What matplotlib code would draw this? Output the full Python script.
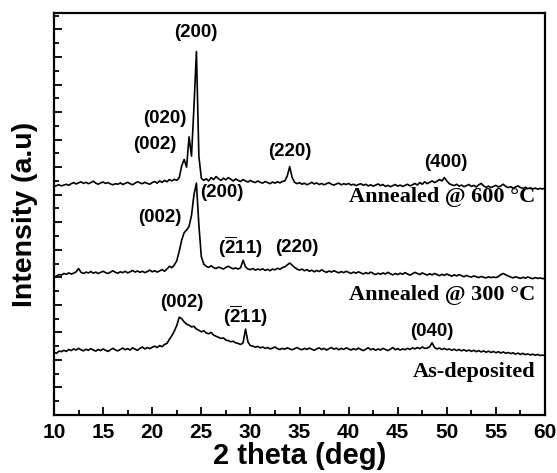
import numpy as np
import matplotlib.pyplot as plt
from matplotlib.ticker import MultipleLocator

# 2 theta grid, 10 to 60 deg in 0.25 deg steps
two_theta = np.arange(10, 60.001, 0.25)

annealed_600 = [
    8.30, 8.33, 8.36, 8.32, 8.35, 8.38, 8.34, 8.40, 8.44, 8.39, 8.43, 8.47, 8.41, 8.45, 8.40, 8.44, 8.49, 8.42, 8.38, 8.43,
    8.46, 8.41, 8.44, 8.39, 8.36, 8.40, 8.38, 8.43, 8.37, 8.41, 8.45, 8.40, 8.36, 8.42, 8.47, 8.43, 8.40, 8.45, 8.41, 8.38,
    8.44, 8.48, 8.42, 8.50, 8.45, 8.52, 8.47, 8.55, 8.50, 8.56, 8.52, 8.62, 9.05, 9.28, 9.00, 10.10, 9.40, 11.2, 13.2, 9.4,
    8.60, 8.52, 8.58, 8.50, 8.62, 8.55, 8.66, 8.58, 8.52, 8.60, 8.54, 8.62, 8.56, 8.50, 8.57, 8.52, 8.48, 8.55, 8.50, 8.46,
    8.52, 8.47, 8.44, 8.50, 8.45, 8.42, 8.48, 8.44, 8.40, 8.46, 8.42, 8.47, 8.43, 8.48, 8.50, 8.68, 9.02, 8.62, 8.45, 8.40,
    8.44, 8.38, 8.42, 8.36, 8.40, 8.45, 8.39, 8.43, 8.37, 8.41, 8.36, 8.40, 8.44, 8.38, 8.35, 8.39, 8.42, 8.36, 8.40, 8.37,
    8.41, 8.35, 8.38, 8.33, 8.37, 8.40, 8.34, 8.38, 8.32, 8.36, 8.31, 8.35, 8.39, 8.33, 8.37, 8.30, 8.34, 8.29, 8.33, 8.37,
    8.31, 8.35, 8.30, 8.34, 8.38, 8.32, 8.36, 8.41, 8.35, 8.44, 8.38, 8.47, 8.40, 8.45, 8.50, 8.44, 8.49, 8.55, 8.50, 8.62,
    8.50, 8.40, 8.36, 8.33, 8.38, 8.31, 8.35, 8.29, 8.33, 8.37, 8.30, 8.34, 8.28, 8.36, 8.41, 8.32, 8.27, 8.31, 8.26, 8.30,
    8.34, 8.28, 8.32, 8.38, 8.30, 8.26, 8.29, 8.24, 8.28, 8.32, 8.26, 8.23, 8.27, 8.22, 8.25, 8.21, 8.24, 8.20, 8.23, 8.21,
    8.24,
]

annealed_300 = [
    5.00, 5.05, 5.10, 5.08, 5.14, 5.11, 5.16, 5.12, 5.15, 5.20, 5.32, 5.18, 5.14, 5.19, 5.16, 5.21, 5.15, 5.19, 5.14, 5.18,
    5.22, 5.17, 5.14, 5.19, 5.24, 5.18, 5.15, 5.20, 5.17, 5.22, 5.16, 5.20, 5.25, 5.19, 5.23, 5.18, 5.22, 5.17, 5.21, 5.26,
    5.20, 5.24, 5.19, 5.23, 5.28, 5.22, 5.30, 5.40, 5.35, 5.45, 5.60, 5.95, 6.35, 6.62, 6.72, 6.85, 7.25, 8.0, 8.42, 6.9,
    5.75, 5.48, 5.40, 5.36, 5.42, 5.35, 5.32, 5.37, 5.34, 5.30, 5.36, 5.40, 5.35, 5.31, 5.34, 5.30, 5.35, 5.62, 5.38, 5.30,
    5.28, 5.32, 5.26, 5.30, 5.27, 5.31, 5.25, 5.29, 5.24, 5.30, 5.27, 5.33, 5.29, 5.35, 5.38, 5.45, 5.52, 5.44, 5.36, 5.30,
    5.26, 5.30, 5.24, 5.28, 5.22, 5.26, 5.20, 5.25, 5.21, 5.27, 5.22, 5.18, 5.23, 5.19, 5.24, 5.20, 5.16, 5.21, 5.17, 5.22,
    5.18, 5.14, 5.19, 5.15, 5.20, 5.16, 5.12, 5.17, 5.13, 5.19, 5.14, 5.10, 5.15, 5.11, 5.16, 5.12, 5.18, 5.13, 5.09, 5.14,
    5.10, 5.15, 5.11, 5.17, 5.12, 5.08, 5.13, 5.18, 5.14, 5.10, 5.16, 5.12, 5.08, 5.13, 5.09, 5.14, 5.10, 5.06, 5.11, 5.07,
    5.12, 5.08, 5.04, 5.09, 5.05, 5.10, 5.06, 5.02, 5.07, 5.03, 5.01, 5.05, 5.02, 4.99, 5.03, 5.00, 4.98, 5.02, 4.99, 5.01,
    4.99, 5.03, 5.10, 5.14, 5.09, 5.05, 5.01, 4.98, 5.02, 4.99, 4.96, 5.00, 4.97, 5.01, 4.98, 4.95, 4.99, 4.96, 4.98, 4.95,
    4.97,
]

as_deposited = [
    2.28, 2.24, 2.32, 2.30, 2.35, 2.31, 2.38, 2.34, 2.40, 2.36, 2.42, 2.37, 2.33, 2.39, 2.35, 2.41, 2.36, 2.32, 2.38, 2.34,
    2.40, 2.35, 2.31, 2.37, 2.42, 2.36, 2.33, 2.38, 2.43, 2.37, 2.41, 2.36, 2.44, 2.39, 2.35, 2.42, 2.47, 2.40, 2.45, 2.41,
    2.46, 2.50, 2.45, 2.52, 2.48, 2.56, 2.60, 2.75, 2.88, 3.05, 3.25, 3.55, 3.50, 3.38, 3.30, 3.26, 3.20, 3.22, 3.12, 3.08,
    3.02, 3.06, 2.98, 2.95, 3.00, 2.90, 2.86, 2.82, 2.78, 2.80, 2.72, 2.70, 2.66, 2.68, 2.62, 2.60, 2.56, 2.62, 3.12, 2.65,
    2.52, 2.50, 2.46, 2.49, 2.44, 2.47, 2.42, 2.45, 2.40, 2.43, 2.47, 2.41, 2.38, 2.42, 2.39, 2.44, 2.40, 2.37, 2.41, 2.45,
    2.40, 2.37, 2.42, 2.38, 2.43, 2.39, 2.35, 2.40, 2.44, 2.38, 2.42, 2.36, 2.41, 2.45, 2.39, 2.43, 2.37, 2.42, 2.38, 2.44,
    2.40, 2.36, 2.41, 2.37, 2.43, 2.38, 2.34, 2.39, 2.44, 2.37, 2.41, 2.35, 2.40, 2.36, 2.42, 2.38, 2.34, 2.39, 2.45, 2.37,
    2.41, 2.36, 2.40, 2.37, 2.42, 2.38, 2.44, 2.40, 2.45, 2.41, 2.47, 2.42, 2.43, 2.48, 2.62, 2.45, 2.40, 2.43, 2.38, 2.42,
    2.37, 2.40, 2.35, 2.39, 2.34, 2.38, 2.33, 2.37, 2.32, 2.36, 2.31, 2.35, 2.30, 2.34, 2.29, 2.33, 2.28, 2.32, 2.27, 2.31,
    2.26, 2.30, 2.25, 2.29, 2.24, 2.27, 2.23, 2.26, 2.21, 2.25, 2.20, 2.24, 2.19, 2.22, 2.18, 2.21, 2.17, 2.20, 2.16, 2.18,
    2.15,
]

# peak labels: text, 2theta, height
peak_labels = [
    ('(200)', 24.46, 13.9), ('(020)', 21.3, 10.76), ('(002)', 20.3, 9.82),
    ('(220)', 34.0, 9.56), ('(400)', 49.9, 9.16),
    ('(200)', 27.1, 8.07), ('(002)', 20.8, 7.16),
    (r'$(\overline{2}11)$', 29.0, 6.1), ('(220)', 34.75, 6.1),
    ('(002)', 23.0, 4.07), (r'$(\overline{2}11)$', 29.5, 3.6), ('(040)', 48.5, 3.02),
]
sample_labels = [
    ('Annealed @ 600 \u00b0C', 7.9),
    ('Annealed @ 300 \u00b0C', 4.36),
    ('As-deposited', 1.56),
]

plt.rcParams['font.family'] = ['Liberation Sans', 'DejaVu Sans']
plt.rcParams['font.weight'] = 'bold'
plt.rcParams['mathtext.fontset'] = 'custom'
plt.rcParams['mathtext.rm'] = 'Liberation Sans:bold'
plt.rcParams['mathtext.it'] = 'Liberation Sans:bold'
plt.rcParams['mathtext.bf'] = 'Liberation Sans:bold'

fig = plt.figure(figsize=(5.57, 4.73), dpi=100)
ax = fig.add_axes([0.097, 0.1226, 0.8815, 0.85])

for curve in (annealed_600, annealed_300, as_deposited):
    ax.plot(two_theta, curve, color='black', lw=1.2)

for txt, x, y in peak_labels:
    ax.text(x, y, txt, ha='center', va='center', fontsize=13.5, fontweight='bold')

for txt, y in sample_labels:
    ax.text(59.0, y, txt, ha='right', va='center', fontsize=16, fontweight='bold',
            family='Liberation Serif')

ax.set_xlim(10, 60)
ax.set_ylim(0, 14.6)
ax.xaxis.set_major_locator(MultipleLocator(5))
ax.xaxis.set_minor_locator(MultipleLocator(2.5))
ax.yaxis.set_major_locator(MultipleLocator(1))
ax.yaxis.set_minor_locator(MultipleLocator(0.5))
ax.tick_params(which='both', direction='in', top=False, right=False, width=1.3)
ax.tick_params(which='major', length=6, labelsize=15, pad=6)
ax.tick_params(which='minor', length=3.5)
ax.tick_params(axis='y', labelleft=False)
for lab in ax.get_xticklabels():
    lab.set_fontweight('bold')
for sp in ax.spines.values():
    sp.set_linewidth(1.6)

ax.set_xlabel('2 theta (deg)', fontsize=21, fontweight='bold', labelpad=0)
ax.set_ylabel('Intensity (a.u)', fontsize=20.5, fontweight='bold', labelpad=8)

fig.savefig('out.png', dpi=100)
